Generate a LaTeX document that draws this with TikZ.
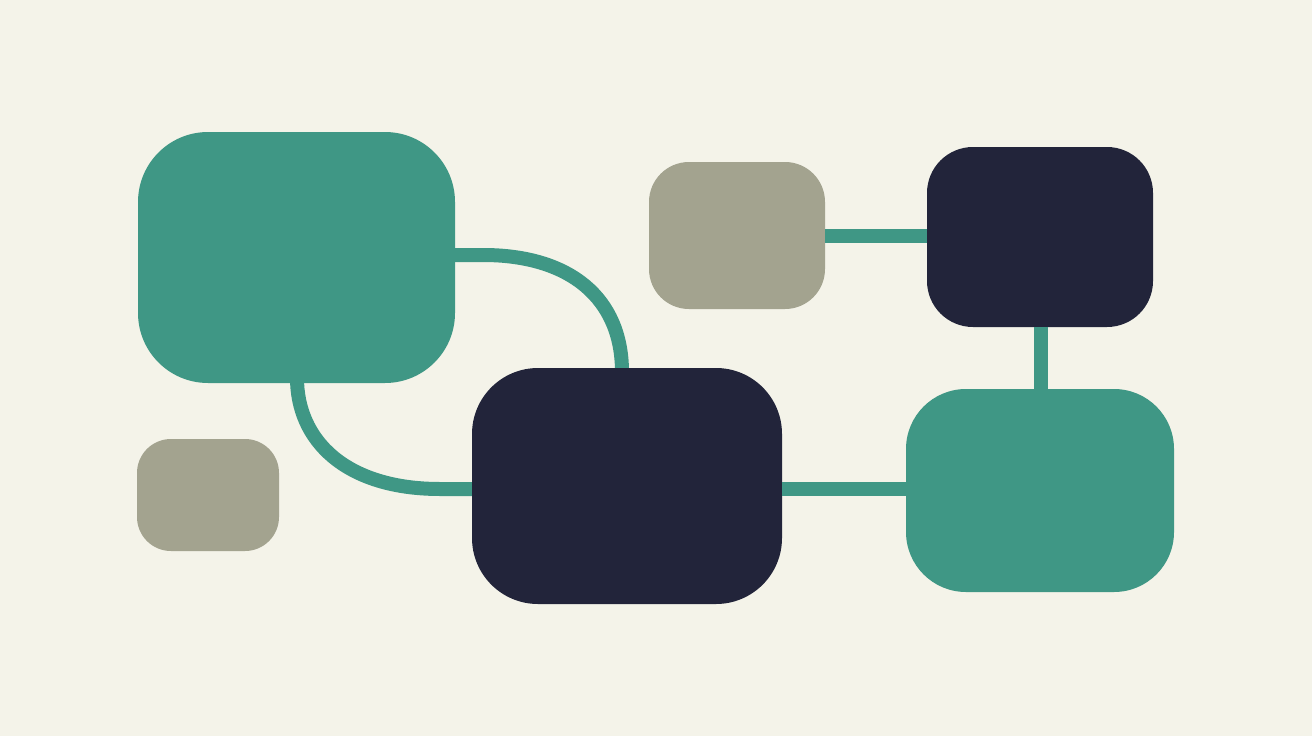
\documentclass[tikz,border=0pt]{standalone}
\usetikzlibrary{calc}
\definecolor{bgc}{HTML}{F4F3E9}
\definecolor{teal1}{HTML}{3F9785}
\definecolor{navy1}{HTML}{22243A}
\definecolor{sage1}{HTML}{A3A38F}
\tikzset{
  blk/.style={rectangle, inner sep=0pt, draw=none},
  link/.style={draw=teal1, line width=14pt}
}
\begin{document}
\begin{tikzpicture}[x=1pt,y=-1pt]
\fill[bgc] (0,0) rectangle (1312,736);
\useasboundingbox (0,0) rectangle (1312,736);
% connectors first (under boxes)
\coordinate (g1e) at (450,255);
\coordinate (g1s) at (297,378);
\coordinate (d1n) at (622,372);
\coordinate (d1w) at (476,489);
\draw[link] (g1e) -- (483,255) .. controls (570,255) and (622,298) .. (d1n);
\draw[link] (g1s) .. controls (297,440) and (345,489) .. (440,489) -- (d1w);
% nodes
\node[blk, fill=teal1, rounded corners=70pt, minimum width=317pt, minimum height=251pt] (g1) at (296.5,257.5) {};
\node[blk, fill=sage1, rounded corners=40pt, minimum width=176pt, minimum height=147pt] (s1) at (737,235.5) {};
\node[blk, fill=navy1, rounded corners=46pt, minimum width=226pt, minimum height=180pt] (d2) at (1040,237) {};
\node[blk, fill=sage1, rounded corners=34pt, minimum width=142pt, minimum height=112pt] (s2) at (208,495) {};
\node[blk, fill=navy1, rounded corners=66pt, minimum width=310pt, minimum height=236pt] (d1) at (627,486) {};
\node[blk, fill=teal1, rounded corners=60pt, minimum width=268pt, minimum height=203pt] (g2) at (1040,490.5) {};
% straight connectors
\draw[link] (s1.east |- 0,236) -- (d2.west |- 0,236);
\draw[link] (d2.south -| 1040.5,0) -- (g2.north -| 1040.5,0);
\draw[link] (d1.east |- 0,489) -- (g2.west |- 0,489);
\end{tikzpicture}
\end{document}
